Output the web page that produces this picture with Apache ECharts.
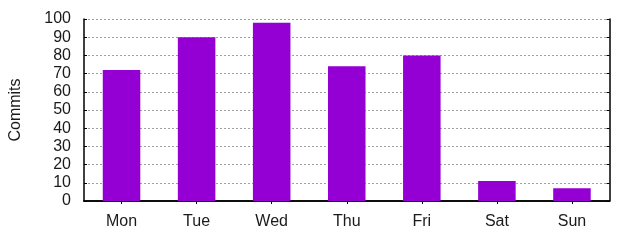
<!DOCTYPE html>
<html><head><meta charset="utf-8">
<script src="https://cdn.jsdelivr.net/npm/echarts@6/dist/echarts.min.js"></script>
<style>html,body{margin:0;padding:0;background:#fff}#c{width:640px;height:240px}</style>
</head><body><div id="c"></div>
<script>
const categories = ['Mon','Tue','Wed','Thu','Fri','Sat','Sun'];
const commits = [72, 90, 98, 74, 80, 11, 7];
const yTicks = {min: 0, max: 100, interval: 10};
const yTitle = 'Commits';

const font = 'Liberation Sans, Arial, sans-serif';
const chart = echarts.init(document.getElementById('c'), null, {renderer: 'canvas'});
chart.setOption({
  animation: false,
  backgroundColor: '#fff',
  grid: {left: 84, right: 30.5, top: 19, bottom: 39, containLabel: false, outerBoundsMode: 'none'},
  xAxis: [{
    type: 'category', data: categories, position: 'bottom',
    axisLine: {lineStyle: {color: '#000', width: 1.5}},
    axisTick: {show: false},
    axisLabel: {color: '#1a1a1a', fontFamily: font, fontSize: 16, margin: 13}
  }, {
    type: 'category', data: categories, position: 'top',
    axisLine: {lineStyle: {color: '#000', width: 1.5}},
    axisTick: {show: true, inside: true, alignWithLabel: true, length: 3, lineStyle: {color: '#000', width: 1}},
    axisLabel: {show: false}
  }],
  yAxis: [{
    type: 'value', min: yTicks.min, max: yTicks.max, interval: yTicks.interval, position: 'left',
    name: yTitle, nameLocation: 'middle', nameGap: 60, nameRotate: 90,
    nameTextStyle: {color: '#1a1a1a', fontFamily: font, fontSize: 16},
    axisLine: {show: true, lineStyle: {color: '#000', width: 1.5}},
    axisTick: {show: true, inside: true, length: 3, lineStyle: {color: '#000'}},
    axisLabel: {color: '#1a1a1a', fontFamily: font, fontSize: 16, margin: 13},
    splitLine: {show: true, lineStyle: {color: '#a0a0a0', type: [2, 2], width: 1}}
  }, {
    type: 'value', min: yTicks.min, max: yTicks.max, interval: yTicks.interval, position: 'right',
    axisLine: {show: true, lineStyle: {color: '#000', width: 1.5}},
    axisTick: {show: true, inside: true, length: 3, lineStyle: {color: '#000'}},
    axisLabel: {show: false},
    splitLine: {show: false}
  }],
  series: [{
    type: 'bar', data: commits, xAxisIndex: 0, yAxisIndex: 0,
    barWidth: '50%',
    itemStyle: {color: '#9400d3'}
  }]
});
</script></body></html>
